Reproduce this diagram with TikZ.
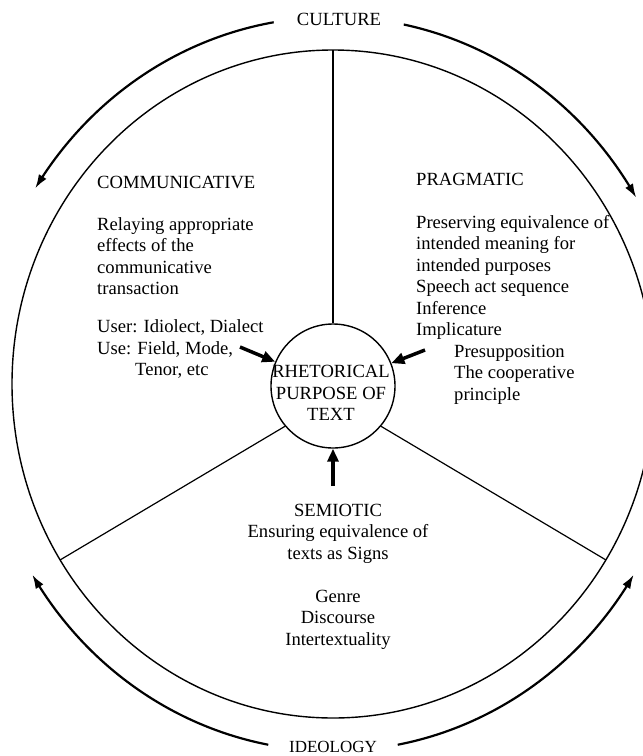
\documentclass[tikz,border=0pt]{standalone}
\usepackage{fontspec}
\setmainfont{Liberation Serif}
\usetikzlibrary{arrows.meta,bending}
\begin{document}
\begin{tikzpicture}[x=1pt,y=-1pt,
  lbl/.style={anchor=base west,inner sep=0pt,font=\fontsize{18.6}{21.5}\selectfont},
  clbl/.style={anchor=base,inner sep=0pt,font=\fontsize{18.6}{21.5}\selectfont},
  rim/.style={line width=1.4pt},
  divider/.style={line width=1.2pt},
  cycle/.style={line width=2.2pt,-{Latex[length=14pt,width=9pt]}},
  pointer/.style={line width=3.5pt,-{Triangle[length=13pt,width=11pt]}}]
\clip (0,0) rectangle (643,756);
\fill[white] (0,0) rectangle (643,756);

% outer ring and central hub
\coordinate (o) at (333,384);
\draw[rim] (o) ellipse [x radius=321, y radius=334];
\node[circle,draw,line width=1.4pt,minimum size=124pt,inner sep=0pt] (core) at (333,386) {};
\node[clbl] (core-1) at (331,377) {RHETORICAL};
\node[clbl] (core-2) at (331,399) {PURPOSE OF};
\node[clbl] (core-3) at (331,420) {TEXT};

% sector dividers
\coordinate (top) at (333,50);
\coordinate (sw) at (60,560);
\coordinate (se) at (606,560);
\draw[divider] (top) -- (core.north);
\draw[divider] (sw) -- (core.-140);
\draw[divider] (se) -- (core.-40);

% arrows into the hub
\coordinate (com-in) at (240,347);
\coordinate (prag-in) at (425,350);
\coordinate (sem-in) at (333,486);
\draw[pointer] (com-in) -- (core);
\draw[pointer] (prag-in) -- (core);
\draw[pointer] (sem-in) -- (core);

% circulating arcs around the ring
\draw[cycle] (o) ++(260.3:352 and 367) arc[start angle=260.3, end angle=212.2, x radius=352, y radius=367];
\draw[cycle] (o) ++(281.6:352 and 367) arc[start angle=281.6, end angle=329.5, x radius=352, y radius=367];
\draw[cycle] (o) ++(100.6:352 and 367) arc[start angle=100.6, end angle=148.7, x radius=352, y radius=367];
\draw[cycle] (o) ++(79.4:352 and 367) arc[start angle=79.4, end angle=31.3, x radius=352, y radius=367];

\node[clbl] (culture) at (339,25) {CULTURE};
\node[clbl,font=\fontsize{17}{20}\selectfont] (ideology) at (333,752) {IDEOLOGY};

% communicative sector
\node[lbl] (com-0) at (97,188) {COMMUNICATIVE};
\node[lbl] (com-1) at (97,230) {Relaying appropriate};
\node[lbl] (com-2) at (97,251.5) {effects of the};
\node[lbl] (com-3) at (97,273) {communicative};
\node[lbl] (com-4) at (97,294) {transaction};
\node[lbl] (com-5) at (97,332) {User: Idiolect, Dialect};
\node[lbl] (com-6) at (97,354) {Use: Field, Mode,};
\node[lbl] (com-7) at (135,375) {Tenor, etc};

% pragmatic sector
\node[lbl] (prag-0) at (416,185) {PRAGMATIC};
\node[lbl] (prag-1) at (416,228) {Preserving equivalence of};
\node[lbl] (prag-2) at (416,249.5) {intended meaning for};
\node[lbl] (prag-3) at (416,271) {intended purposes};
\node[lbl] (prag-4) at (416,292.5) {Speech act sequence};
\node[lbl] (prag-5) at (416,314) {Inference};
\node[lbl] (prag-6) at (416,335.5) {Implicature};
\node[lbl] (prag-7) at (454,357) {Presupposition};
\node[lbl] (prag-8) at (454,378.5) {The cooperative};
\node[lbl] (prag-9) at (454,400) {principle};

% semiotic sector
\node[clbl] (sem-0) at (338,516) {SEMIOTIC};
\node[clbl] (sem-1) at (338,537.5) {Ensuring equivalence of};
\node[clbl] (sem-2) at (338,559) {texts as Signs};
\node[clbl] (sem-3) at (338,602) {Genre};
\node[clbl] (sem-4) at (338,623.5) {Discourse};
\node[clbl] (sem-5) at (338,645) {Intertextuality};
\end{tikzpicture}
\end{document}
